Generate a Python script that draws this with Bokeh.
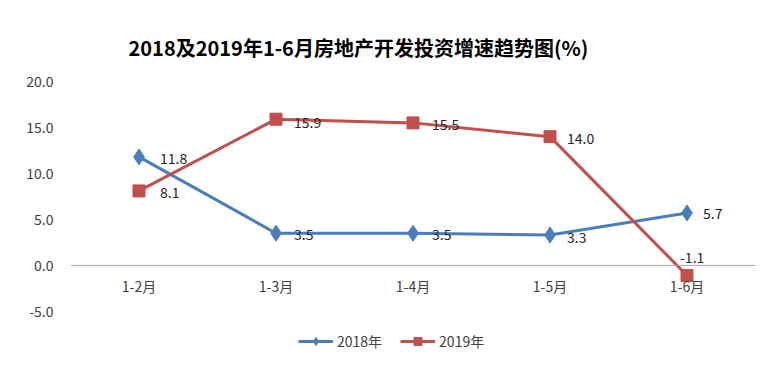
from bokeh.plotting import figure
from bokeh.models import (ColumnDataSource, Span, FixedTicker, NumeralTickFormatter,
                          Range1d, FactorRange, Legend, LegendItem)
from bokeh.core.properties import value
from bokeh.embed import file_html
from bokeh.resources import INLINE

categories = ["1-2月", "1-3月", "1-4月", "1-5月", "1-6月"]
y2018 = [11.8, 3.5, 3.5, 3.3, 5.7]
y2019 = [8.1, 15.9, 15.5, 14.0, -1.1]
labels2018 = ["11.8", "3.5", "3.5", "3.3", "5.7"]
labels2019 = ["8.1", "15.9", "15.5", "14.0", "-1.1"]
y_ticks = [-5, 0, 5, 10, 15, 20]

# label offsets in screen pixels (style only; +y is down)
dx2018 = [21, 18, 19, 17, 16]
dy2018 = [2, 1, 1, 2, 1]
dx2019 = [21, 18, 19, 17, -7]
dy2019 = [2, 3, 2, 2, -18]

FONT = "Noto Sans CJK SC"
BLUE = "#4A7EBB"
RED = "#C0504D"

p = figure(width=756, height=359, x_range=FactorRange(factors=categories, range_padding=0),
           y_range=Range1d(-9.8, 20), output_backend="svg", toolbar_location=None,
           min_border_left=70, min_border_right=1, min_border_top=81, min_border_bottom=4)

p.title.text = "2018及2019年1-6月房地产开发投资增速趋势图(%)"
p.title.text_font = FONT
p.title.text_font_size = "20px"
p.title.text_font_style = "bold"
p.title.text_color = "#000000"
p.title.align = "left"
p.title.offset = 58
p.title.standoff = 39

p.outline_line_color = None
p.xgrid.grid_line_color = None
p.ygrid.grid_line_color = None
p.xaxis.visible = False

ya = p.yaxis[0]
ya.ticker = FixedTicker(ticks=y_ticks)
ya.formatter = NumeralTickFormatter(format="0.0")
ya.axis_line_color = None
ya.major_tick_line_color = None
ya.minor_tick_line_color = None
ya.major_tick_out = 0
ya.major_tick_in = 0
ya.major_label_standoff = 17
ya.major_label_text_font = FONT
ya.major_label_text_font_size = "14px"
ya.major_label_text_color = "#404040"

p.add_layout(Span(location=0, dimension="width", line_color="#A6A6A6", line_width=1))

src18 = ColumnDataSource(dict(x=categories, y=y2018, t=labels2018, dx=dx2018, dy=dy2018))
src19 = ColumnDataSource(dict(x=categories, y=y2019, t=labels2019, dx=dx2019, dy=dy2019))

l1 = p.line("x", "y", source=src18, line_color=BLUE, line_width=3)
s1 = p.scatter("x", "y", source=src18, marker="diamond", size=16, fill_color=BLUE, line_color=BLUE)
l2 = p.line("x", "y", source=src19, line_color=RED, line_width=3)
s2 = p.scatter("x", "y", source=src19, marker="square", size=12, fill_color=RED, line_color=RED)

for src in (src18, src19):
    p.text(x="x", y="y", text="t", source=src, x_offset="dx", y_offset="dy",
           text_align="left", text_baseline="middle", text_font=value(FONT),
           text_font_size="14px", text_color="#262626")

cat_src = ColumnDataSource(dict(x=categories, y=[0] * len(categories), t=categories))
p.text(x="x", y="y", text="t", source=cat_src, y_offset=21,
       text_align="center", text_baseline="middle", text_font=value(FONT),
       text_font_size="14px", text_color="#404040")

legend = Legend(items=[LegendItem(label="2018年", renderers=[l1, s1]),
                       LegendItem(label="2019年", renderers=[l2, s2])],
                orientation="horizontal", location=(228, 4))
legend.border_line_color = None
legend.background_fill_alpha = 0
legend.label_text_font = FONT
legend.label_text_font_size = "14px"
legend.label_text_color = "#404040"
legend.glyph_width = 35
legend.label_standoff = 4
legend.spacing = 18
legend.padding = 0
legend.margin = 0
p.add_layout(legend)

open("out.html", "w").write(file_html(p, INLINE))
